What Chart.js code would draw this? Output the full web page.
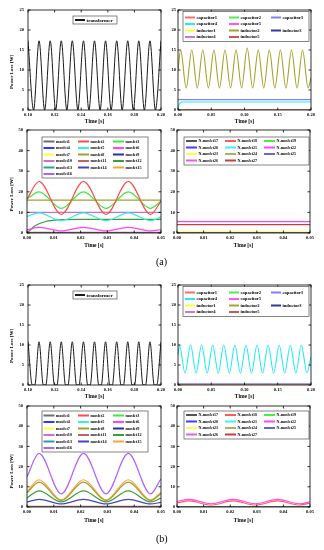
<!DOCTYPE html>
<html><head><meta charset="utf-8">
<script src="https://cdn.jsdelivr.net/npm/chart.js@4"></script>
<style>
html,body{margin:0;padding:0;background:#fff;}
body{width:324px;height:550px;position:relative;overflow:hidden;}
canvas{position:absolute;}
.sub{position:absolute;font-family:"Liberation Serif",serif;font-size:10px;color:#000;line-height:10px;}
</style></head><body>
<canvas id="a1"></canvas><canvas id="a2"></canvas><canvas id="a3"></canvas><canvas id="a4"></canvas>
<canvas id="b1"></canvas><canvas id="b2"></canvas><canvas id="b3"></canvas><canvas id="b4"></canvas>
<div class="sub" style="left:156px;top:257px">(a)</div>
<div class="sub" style="left:156px;top:534px">(b)</div>
<script>
// ---------- text ----------
const xTitle = 'Time [s]';
const yTitle = 'Power Loss [W]';
const transformerLabels = ['transformer'];
const passiveLabels = ['capacitor1','capacitor2','capacitor3','capacitor4','capacitor5','inductor1','inductor2','inductor3','inductor4','inductor5'];
const mosfetLabels = ['mosfet1','mosfet2','mosfet3','mosfet4','mosfet5','mosfet6','mosfet7','mosfet8','mosfet9','mosfet10','mosfet11','mosfet12','mosfet13','mosfet14','mosfet15','mosfet16'];
const nMosfetLabels = ['N-mosfet17','N-mosfet18','N-mosfet19','N-mosfet20','N-mosfet21','N-mosfet22','N-mosfet23','N-mosfet24','N-mosfet25','N-mosfet26','N-mosfet27'];

// ---------- tick labels ----------
const yTicks25 = [0,5,10,15,20,25];
const yTicks50 = [0,10,20,30,40,50];
const xTicksTransformer = [0.10,0.12,0.14,0.16,0.18,0.20];
const xTicksPassive = [0.00,0.05,0.10,0.15,0.20];
const xTicksSwitch = [0.00,0.01,0.02,0.03,0.04,0.05];

// ---------- time bases (s) ----------
const tTrA = [0.1000,0.1042,0.1083,0.1125,0.1167,0.1208,0.1250,0.1292,0.1333,0.1375,0.1417,0.1458,0.1500,0.1542,0.1583,0.1625,0.1667,0.1708,0.1750,0.1792,0.1833,0.1875,0.1917,0.1958,0.2000];
const tTrB = [0.1000,0.1032,0.1051,0.1083,0.1115,0.1134,0.1167,0.1199,0.1218,0.1250,0.1282,0.1301,0.1333,0.1365,0.1384,0.1417,0.1449,0.1468,0.1500,0.1532,0.1551,0.1583,0.1615,0.1634,0.1667,0.1699,0.1718,0.1750,0.1782,0.1801,0.1833,0.1865,0.1884,0.1917,0.1949,0.1968,0.2000];
const tPassA = [0,0.0040,0.0123,0.0207,0.0290,0.0373,0.0457,0.0540,0.0623,0.0707,0.0790,0.0873,0.0957,0.1040,0.1123,0.1207,0.1290,0.1373,0.1457,0.1540,0.1623,0.1707,0.1790,0.1873,0.1957,0.2000];
const tPassB = [0,0.0022,0.0105,0.0189,0.0272,0.0355,0.0439,0.0522,0.0605,0.0689,0.0772,0.0855,0.0939,0.1022,0.1105,0.1189,0.1272,0.1355,0.1439,0.1522,0.1605,0.1689,0.1772,0.1855,0.1939,0.2000];
const tPassFlat = [0,0.2];
const tCap4Rise = [0,0.001,0.003,0.008,0.2];
const tSw = [0,0.0045,0.0128,0.0211,0.0295,0.0378,0.0461,0.0500];
const tSwFlat = [0,0.05];
const tM12Rise = [0,0.003,0.007,0.012,0.020,0.050];

// ---------- series values (W) ----------
// (a)
const transformerA = [17.3,0,17.3,0,17.3,0,17.3,0,17.3,0,17.3,0,17.3,0,17.3,0,17.3,0,17.3,0,17.3,0,17.3,0,17.3];
const inductor2A = [10,15,5.5,15,5.5,15,5.5,15,5.5,15,5.5,15,5.5,15.5,5.5,15,5.5,15,5.5,15,5.5,15,5.5,15,5.5,8];
const capacitor4A = [0,1.0,1.7,2.0,2.0];
const passiveConstA = [0,0,2.6,null,0,0,null,0,0,0];
const mosfet2A = [16.5,25,9,25,9,25,9,15.5];
const mosfet3A = [16.5,20,12,20,12,20,12,15.5];
const mosfet5A = [8,9.8,6,9.8,6,9.8,6,7.8];
const mosfet6A = [1.5,2.7,1,2.7,1,2.7,1,1.6];
const mosfet12A = [0,3.5,5.6,6.4,6.6,6.6];
const mosfetConstA = [0.2,null,null,0,null,null,0,16,0,10,0.3,null,0,0,0,0];
const nMosfetConstA = [0,0,0,0,0,5.5,0.6,0,0,0,4.1];
// (b)
const transformerB = [10.8,0,0,10.8,0,0,10.8,0,0,10.8,0,0,10.8,0,0,10.8,0,0,10.8,0,0,10.8,0,0,10.8,0,0,10.8,0,0,10.8,0,0,10.8,0,0,10.8];
const capacitor4B = [7.5,10,3,10,3,10,3,10,3,10,3,10,3,10,3,10,3,10,3,10,3,10,3,10,3,7];
const passiveConstB = [0,0,0.3,null,0,0,0,0,0,0];
const mosfet8B = [7,12.3,3.2,12.3,3.2,12.3,3.2,6.6];
const mosfet12B = [4.5,8,2.5,8,2.5,8,2.5,4.4];
const mosfet14B = [2.5,3.8,1.5,3.8,1.5,3.8,1.5,2.3];
const mosfet15B = [7.5,13.5,3.5,13.5,3.5,13.5,3.5,7.2];
const mosfet16B = [15,26.5,6.5,26.5,6.5,26.5,6.5,14];
const mosfetConstB = [0,0,0,0,0,0,0,null,0,0,0.3,null,0,null,null,null];
const nMosfet18B = [2,3,1,3,1,3,1,1.9];
const nMosfet22B = [2.8,3.8,1.6,3.8,1.6,3.8,1.6,2.6];
const nMosfetConstB = [0,null,0,0,0,null,0,0,0,0,0];

// ---------- colours ----------
const passiveColors = ['#ff6b6b','#4cee4c','#7f7fff','#22eeee','#ff55ff','#ffff33','#a3a32a','#3535a0','#cc77cc','#cc5555'];
const mosfetColors = ['#6e6e6e','#ff4a4a','#3fe83f','#3535ff','#33eeee','#ff44ff','#ffff33','#a0a030','#2e2ea0','#cc70cc','#bb6666','#3a9e3a','#2a9e9e','#4545c0','#ffa040','#b060ff'];
const nMosfetColors = ['#555555','#ff5a5a','#44ee44','#3f3fff','#3ff0f0','#ff44ff','#ffff40','#b0b060','#6a6ac0','#dd60dd','#c04040'];
const passiveLegendPos = [[0,0],[1,0],[2,0],[0,1],[1,1],[0,2],[1,2],[2,2],[0,3],[1,3]];

// ---------- helpers ----------
function ds(label, xs, ys, color, width, col, row) {
  return { label, data: xs.map((x, i) => ({x, y: ys[i]})), borderColor: color, backgroundColor: color,
           borderWidth: width, legendCol: col, legendRow: row };
}
function group(labels, colors, consts, waves, flatT, width, posFn) {
  return labels.map((lab, i) => {
    const [c, r] = posFn(i);
    if (consts[i] !== null) return ds(lab, flatT, [consts[i], consts[i]], colors[i], width, c, r);
    const w = waves[lab];
    return ds(lab, w[0], w[1], colors[i], width, c, r);
  });
}
const grid3 = i => [i % 3, Math.floor(i / 3)];
const FONT = '"Liberation Serif", "Times New Roman", serif';

const originFrame = {
  id: 'originFrame',
  afterDraw(chart, args, o) {
    const {ctx, chartArea: a, scales: {x, y}} = chart;
    ctx.save();
    ctx.strokeStyle = '#000'; ctx.lineWidth = 0.8;
    ctx.strokeRect(a.left, a.top, a.right - a.left, a.bottom - a.top);
    const tl = 2.5;
    ctx.beginPath();
    x.ticks.forEach(t => { const p = x.getPixelForValue(t.value);
      ctx.moveTo(p, a.bottom); ctx.lineTo(p, a.bottom - tl); ctx.moveTo(p, a.top); ctx.lineTo(p, a.top + tl); });
    y.ticks.forEach(t => { const p = y.getPixelForValue(t.value);
      ctx.moveTo(a.left, p); ctx.lineTo(a.left + tl, p); ctx.moveTo(a.right, p); ctx.lineTo(a.right - tl, p); });
    ctx.stroke();
    ctx.fillStyle = '#000'; ctx.textAlign = 'center'; ctx.textBaseline = 'middle';
    ctx.font = 'bold 5.5px ' + FONT;
    ctx.fillText(xTitle, (a.left + a.right) / 2, a.bottom + o.xGap);
    if (o.yTitle) {
      ctx.save(); ctx.font = 'bold 5px ' + FONT;
      ctx.translate(12, (a.top + a.bottom) / 2 + o.yShift); ctx.rotate(-Math.PI / 2);
      ctx.fillText(yTitle, 0, 0); ctx.restore();
    }
    const L = o.legend;
    const bx = a.left + L.x, by = a.top + L.y;
    ctx.fillStyle = '#fff'; ctx.fillRect(bx, by, L.w, L.h);
    ctx.strokeStyle = '#333'; ctx.lineWidth = 0.6; ctx.strokeRect(bx, by, L.w, L.h);
    ctx.font = 'bold ' + L.font + 'px ' + FONT; ctx.textAlign = 'left';
    chart.data.datasets.forEach(d => {
      const sx = bx + L.cols[d.legendCol], sy = by + L.rows[d.legendRow];
      ctx.strokeStyle = d.borderColor; ctx.lineWidth = 2;
      ctx.beginPath(); ctx.moveTo(sx, sy); ctx.lineTo(sx + L.sample, sy); ctx.stroke();
      ctx.fillStyle = '#000'; ctx.fillText(d.label, sx + L.sample + 1.5, sy + 0.3);
    });
    ctx.restore();
  }
};

function makeChart(id, p) {
  const cv = document.getElementById(id);
  cv.width = p.w; cv.height = p.h;
  Object.assign(cv.style, {left: p.left + 'px', top: p.top + 'px', width: p.w + 'px', height: p.h + 'px'});
  const tickFont = {family: FONT, size: 4.5, weight: 'bold'};
  new Chart(cv, {
    type: 'line',
    data: {datasets: p.datasets},
    options: {
      responsive: false, animation: false, devicePixelRatio: 1,
      layout: {padding: {left: 0, top: p.t, right: p.w - p.r, bottom: 0}},
      elements: {point: {radius: 0}, line: {cubicInterpolationMode: 'monotone', tension: 0.4}},
      plugins: {legend: {display: false}, tooltip: {enabled: false},
        originFrame: {xGap: p.xGap, yTitle: p.yTitle, yShift: p.yShift || 0, legend: p.legend}},
      scales: {
        x: {type: 'linear', min: p.xTicks[0], max: p.xTicks[p.xTicks.length - 1],
            grid: {display: false, drawTicks: false, tickLength: 0}, border: {display: false},
            ticks: {font: tickFont, color: '#000', padding: 2, maxRotation: 0, autoSkip: false,
                    callback: v => v.toFixed(2)},
            afterBuildTicks: s => { s.ticks = p.xTicks.map(v => ({value: v})); },
            afterFit: s => { s.height = p.h - p.b; s.paddingLeft = 0; s.paddingRight = 0; }},
        y: {type: 'linear', min: 0, max: p.yTicks[p.yTicks.length - 1],
            grid: {display: false, drawTicks: false, tickLength: 0}, border: {display: false},
            ticks: {font: tickFont, color: '#000', padding: p.yPad || 3, autoSkip: false, callback: v => String(v)},
            afterBuildTicks: s => { s.ticks = p.yTicks.map(v => ({value: v})); },
            afterFit: s => { s.width = p.l; s.paddingTop = 0; s.paddingBottom = 0; }}
      }
    },
    plugins: [originFrame]
  });
}

const legTr = {x: 45, y: 6, w: 44, h: 8, cols: [2], rows: [4], sample: 10, font: 5};
const legPass = {x: 5, y: 1.5, w: 126, h: 30, cols: [2, 46, 88], rows: [6, 12.5, 19, 25.5], sample: 10, font: 4.6};
const legMos = {x: 15, y: 7, w: 106, h: 41, cols: [1.5, 36, 71], rows: [4.5, 11, 17.5, 24, 30.5, 37], sample: 11, font: 4.2};
const legN = {x: 7, y: 7, w: 125, h: 28, cols: [2, 41, 80], rows: [4, 10.5, 17, 23.5], sample: 11, font: 4};

// (a)
makeChart('a1', {left: 0, top: 0, w: 172, h: 128, l: 28, r: 161, t: 10, b: 110, xGap: 12, yTitle: true, yShift: 12, yPad: 4,
  xTicks: xTicksTransformer, yTicks: yTicks25, legend: legTr,
  datasets: [ds(transformerLabels[0], tTrA, transformerA, '#1a1a1a', 1, 0, 0)]});
makeChart('a2', {left: 162, top: 0, w: 162, h: 128, l: 16, r: 149, t: 10, b: 110, xGap: 12, yPad: 2,
  xTicks: xTicksPassive, yTicks: yTicks25, legend: legPass,
  datasets: group(passiveLabels, passiveColors, passiveConstA,
    {capacitor4: [tCap4Rise, capacitor4A], inductor2: [tPassA, inductor2A]}, tPassFlat, 1.1, i => passiveLegendPos[i])});
makeChart('a3', {left: 0, top: 125, w: 172, h: 130, l: 27, r: 161, t: 5, b: 108, xGap: 13, yTitle: true, yShift: 13, yPad: 4,
  xTicks: xTicksSwitch, yTicks: yTicks50, legend: legMos,
  datasets: group(mosfetLabels, mosfetColors, mosfetConstA,
    {mosfet2: [tSw, mosfet2A], mosfet3: [tSw, mosfet3A], mosfet5: [tSw, mosfet5A], mosfet6: [tSw, mosfet6A], mosfet12: [tM12Rise, mosfet12A]},
    tSwFlat, 1.2, grid3)});
makeChart('a4', {left: 162, top: 125, w: 162, h: 130, l: 15, r: 148, t: 5, b: 108, xGap: 13, yPad: 2,
  xTicks: xTicksSwitch, yTicks: yTicks50, legend: legN,
  datasets: group(nMosfetLabels, nMosfetColors, nMosfetConstA, {}, tSwFlat, 1.2, grid3)});
// (b)
makeChart('b1', {left: 0, top: 275, w: 172, h: 128, l: 28, r: 161, t: 10, b: 110, xGap: 12, yTitle: true, yShift: 11, yPad: 4,
  xTicks: xTicksTransformer, yTicks: yTicks25, legend: legTr,
  datasets: [ds(transformerLabels[0], tTrB, transformerB, '#1a1a1a', 1, 0, 0)]});
makeChart('b2', {left: 162, top: 275, w: 162, h: 128, l: 16, r: 149, t: 10, b: 110, xGap: 12, yPad: 2,
  xTicks: xTicksPassive, yTicks: yTicks25, legend: legPass,
  datasets: group(passiveLabels, passiveColors, passiveConstB,
    {capacitor4: [tPassB, capacitor4B]}, tPassFlat, 1.1, i => passiveLegendPos[i])});
makeChart('b3', {left: 0, top: 398, w: 172, h: 135, l: 27, r: 161, t: 8, b: 109, xGap: 14, yTitle: true, yShift: 15, yPad: 4,
  xTicks: xTicksSwitch, yTicks: yTicks50, legend: Object.assign({}, legMos, {y: 5}),
  datasets: group(mosfetLabels, mosfetColors, mosfetConstB,
    {mosfet8: [tSw, mosfet8B], mosfet12: [tSw, mosfet12B], mosfet14: [tSw, mosfet14B], mosfet15: [tSw, mosfet15B], mosfet16: [tSw, mosfet16B]},
    tSwFlat, 1.2, grid3)});
makeChart('b4', {left: 162, top: 398, w: 162, h: 135, l: 15, r: 148, t: 8, b: 109, xGap: 14, yPad: 2,
  xTicks: xTicksSwitch, yTicks: yTicks50, legend: Object.assign({}, legN, {y: 5}),
  datasets: group(nMosfetLabels, nMosfetColors, nMosfetConstB,
    {'N-mosfet18': [tSw, nMosfet18B], 'N-mosfet22': [tSw, nMosfet22B]}, tSwFlat, 1.2, grid3)});
</script>
</body></html>
